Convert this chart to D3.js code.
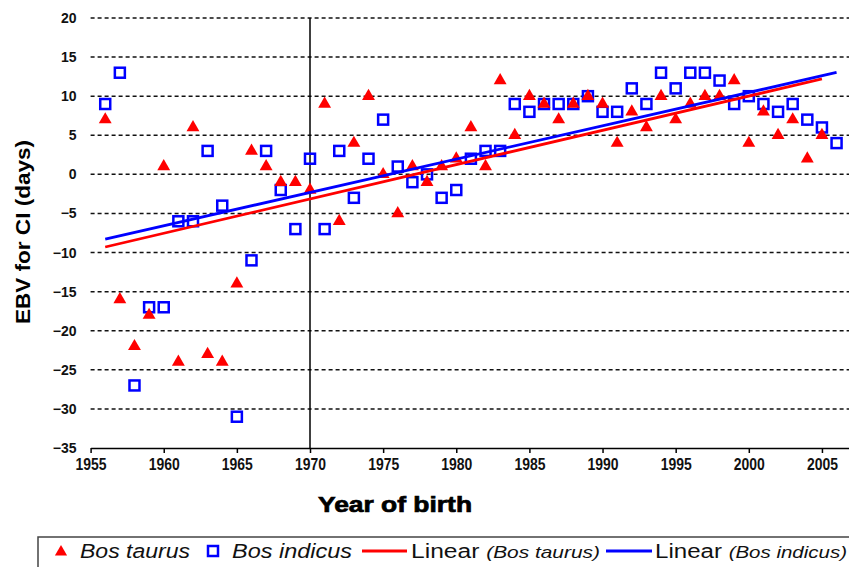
<!DOCTYPE html>
<html>
<head>
<meta charset="utf-8">
<script src="https://cdn.jsdelivr.net/npm/d3@7"></script>
<style>
  body { margin: 0; background: #fff; }
  svg { display: block; font-family: "Liberation Sans", Arial, sans-serif; }
</style>
</head>
<body>
<svg width="849" height="567"></svg>
<script>
// Bos taurus (red triangles)
const taurusYears = d3.range(1956, 2006);
const taurusEbv = [7, -16, -22, -18, 1, -24, 6, -23, -24, -14,
                   3, 1, -1, -1, -2, 9, -6, 4, 10, 0,
                   -5, 1, -1, 1, 2, 6, 1, 12, 5, 10,
                   9, 7, 9, 10, 9, 4, 8, 6, 10, 7,
                   9, 10, 10, 12, 4, 8, 5, 7, 2, 5];

// Bos indicus (blue squares)
const indicusYears = d3.range(1956, 2007);
const indicusEbv = [9, 13, -27, -17, -17, -6, -6, 3, -4, -31,
                    -11, 3, -2, -7, 2, -7, 3, -3, 2, 7,
                    1, -1, 0, -3, -2, 2, 3, 3, 9, 8,
                    9, 9, 9, 10, 8, 8, 11, 9, 13, 11,
                    13, 13, 12, 9, 10, 9, 8, 9, 7, 6, 4];

const xTicks = d3.range(1955, 2006, 5);
const yTicks = d3.range(-35, 21, 5);

const svg = d3.select("svg");

const x = d3.scaleLinear().domain([1955, 2006.85]).range([90.6, 849]);
const y = d3.scaleLinear().domain([-35, 20]).range([448, 18]);

// dashed gridlines
svg.append("g")
    .selectAll("line")
    .data(yTicks.filter(v => v > -35))
    .enter().append("line")
    .attr("x1", x.range()[0])
    .attr("x2", x.range()[1])
    .attr("y1", d => y(d))
    .attr("y2", d => y(d))
    .attr("stroke", "#111")
    .attr("stroke-width", 1.5)
    .attr("stroke-dasharray", "4,3");

// vertical axis line crossing at 1970
svg.append("line")
    .attr("x1", x(1970)).attr("x2", x(1970))
    .attr("y1", y(20)).attr("y2", y(-35))
    .attr("stroke", "#000")
    .attr("stroke-width", 1.5);

// x axis
const xAxis = svg.append("g")
    .attr("transform", `translate(0,${y(-35)})`)
    .call(d3.axisBottom(x).tickValues(xTicks).tickFormat(d3.format("d")).tickSize(5).tickSizeOuter(0).tickPadding(6));
xAxis.select(".domain").attr("stroke", "#000").attr("stroke-width", 1.5);
xAxis.selectAll(".tick line").attr("stroke", "#000").attr("stroke-width", 1.5);
xAxis.selectAll("text")
    .attr("fill", "#111")
    .attr("font-size", 16)
    .attr("font-weight", "bold")
    .attr("font-family", "'Liberation Sans', Arial, sans-serif")
    .attr("textLength", 31)
    .attr("lengthAdjust", "spacingAndGlyphs");

// y axis labels (placed at the low side)
const yAxis = svg.append("g")
    .attr("transform", `translate(${x.range()[0]},0)`)
    .call(d3.axisLeft(y).tickValues(yTicks).tickSize(0).tickPadding(14));
yAxis.select(".domain").remove();
yAxis.selectAll("text")
    .attr("fill", "#111")
    .attr("font-size", 14)
    .attr("font-weight", "bold")
    .attr("font-family", "'Liberation Sans', Arial, sans-serif");

// axis titles
svg.append("text")
    .attr("transform", "translate(30,232) rotate(-90)")
    .attr("text-anchor", "middle")
    .attr("font-size", 20)
    .attr("font-weight", "bold")
    .attr("textLength", 184)
    .attr("lengthAdjust", "spacingAndGlyphs")
    .text("EBV for CI (days)");

svg.append("text")
    .attr("x", 395)
    .attr("y", 512)
    .attr("text-anchor", "middle")
    .attr("font-size", 22)
    .attr("font-weight", 900)
    .attr("stroke", "#000")
    .attr("stroke-width", 0.7)
    .attr("textLength", 154)
    .attr("lengthAdjust", "spacingAndGlyphs")
    .text("Year of birth");

// markers
const indicus = indicusYears.map((yr, i) => ({ year: yr, v: indicusEbv[i] }));
const taurus = taurusYears.map((yr, i) => ({ year: yr, v: taurusEbv[i] }));

svg.append("g")
    .selectAll("rect")
    .data(indicus)
    .enter().append("rect")
    .attr("x", d => x(d.year) - 5)
    .attr("y", d => y(d.v) - 5)
    .attr("width", 10)
    .attr("height", 10)
    .attr("fill", "none")
    .attr("stroke", "#0000ff")
    .attr("stroke-width", 2.5);

const tri = d3.symbol(d3.symbolTriangle, 72);
svg.append("g")
    .selectAll("path")
    .data(taurus)
    .enter().append("path")
    .attr("d", tri)
    .attr("transform", d => `translate(${x(d.year)},${y(d.v)})`)
    .attr("fill", "#ff0000");

// linear trendlines (least squares)
function fit(xs, ys) {
    const mx = d3.mean(xs), my = d3.mean(ys);
    let sxy = 0, sxx = 0;
    xs.forEach((v, i) => { sxy += (v - mx) * (ys[i] - my); sxx += (v - mx) * (v - mx); });
    const b = sxy / sxx;
    const a = my - b * mx;
    return t => a + b * t;
}

const trends = [
    { years: taurusYears, f: fit(taurusYears, taurusEbv), color: "#ff0000" },
    { years: indicusYears, f: fit(indicusYears, indicusEbv), color: "#0000ff" }
];

svg.append("g")
    .selectAll("line")
    .data(trends)
    .enter().append("line")
    .attr("x1", d => x(d3.min(d.years)))
    .attr("x2", d => x(d3.max(d.years)))
    .attr("y1", d => y(d.f(d3.min(d.years))))
    .attr("y2", d => y(d.f(d3.max(d.years))))
    .attr("stroke", d => d.color)
    .attr("stroke-width", 2.8);

// legend
const legend = svg.append("g");
legend.append("rect")
    .attr("x", 38).attr("y", 537)
    .attr("width", 830).attr("height", 45)
    .attr("fill", "#fff")
    .attr("stroke", "#444")
    .attr("stroke-width", 1.5);

const ly = 551;
legend.append("path")
    .attr("d", d3.symbol(d3.symbolTriangle, 64))
    .attr("transform", `translate(61,${ly + 1})`)
    .attr("fill", "#ff0000");
legend.append("rect")
    .attr("x", 208).attr("y", ly - 5)
    .attr("width", 10).attr("height", 10)
    .attr("fill", "none")
    .attr("stroke", "#0000ff")
    .attr("stroke-width", 2.5);
legend.append("line")
    .attr("x1", 362).attr("x2", 407).attr("y1", ly).attr("y2", ly)
    .attr("stroke", "#ff0000").attr("stroke-width", 2.8);
legend.append("line")
    .attr("x1", 606).attr("x2", 652).attr("y1", ly).attr("y2", ly)
    .attr("stroke", "#0000ff").attr("stroke-width", 2.8);

function legendText(xPos, len, parts) {
    const t = legend.append("text")
        .attr("x", xPos)
        .attr("y", ly + 7)
        .attr("font-size", 20)
        .attr("fill", "#111")
        .attr("textLength", len)
        .attr("lengthAdjust", "spacingAndGlyphs");
    parts.forEach(p => {
        t.append("tspan")
            .attr("font-style", p.italic ? "italic" : "normal")
            .attr("font-size", p.size || 20)
            .text(p.s);
    });
}
legendText(80, 110, [{ s: "Bos taurus", italic: true }]);
legendText(232, 120, [{ s: "Bos indicus", italic: true }]);
legendText(411, 189, [{ s: "Linear " }, { s: "(Bos taurus)", italic: true, size: 17 }]);
legendText(655, 192, [{ s: "Linear " }, { s: "(Bos indicus)", italic: true, size: 17 }]);
</script>
</body>
</html>
